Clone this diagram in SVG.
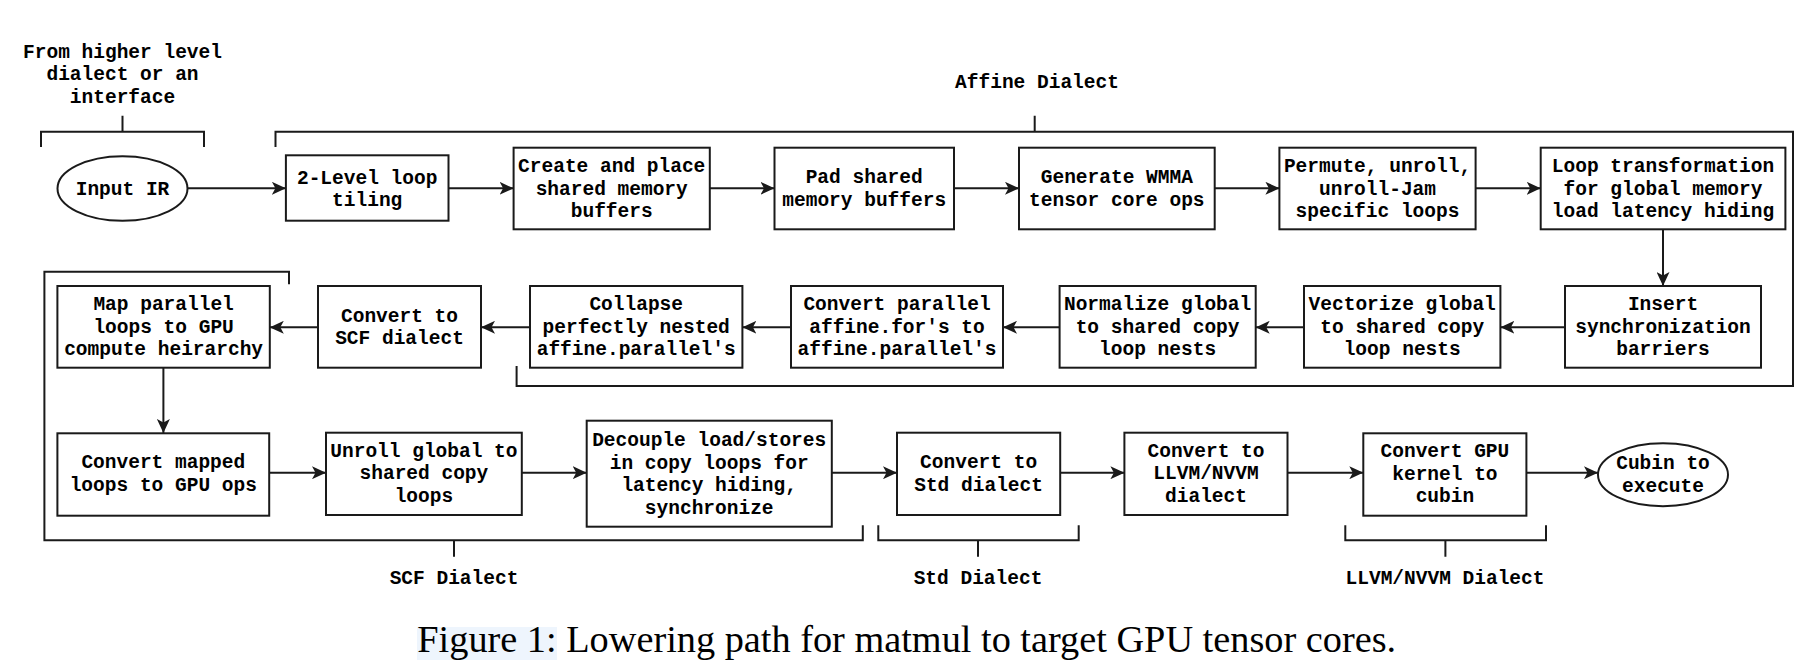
<svg xmlns="http://www.w3.org/2000/svg" width="1807" height="669" viewBox="0 0 1807 669">
<style>
.box{fill:#fff;stroke:#1a1a1a;stroke-width:2}
.t{font-family:"Liberation Mono","Courier New",monospace;font-weight:bold;font-size:19.5px;fill:#000;text-anchor:middle}
.c{fill:none;stroke:#1a1a1a;stroke-width:2}
.br{fill:none;stroke:#1a1a1a;stroke-width:2}
.cap{font-family:"Liberation Serif","Times New Roman",serif;font-size:38.3px;fill:#000}
</style>
<defs>
<marker id="ah" markerUnits="userSpaceOnUse" markerWidth="14" markerHeight="13" refX="14" refY="6.5" orient="auto">
<path d="M0,0 L14,6.5 L0,13 L3.5,6.5 Z" fill="#1a1a1a"/>
</marker>
</defs>
<rect width="1807" height="669" fill="#fff"/>

<g id="brackets">
<path class="br" d="M41,147 V131.7 H204 V147 M122.5,131.7 V115.7"/>
<path class="br" d="M275.5,147 V131.7 H1793 V386 H516.6 V366 M1034.7,131.7 V115.7"/>
<path class="br" d="M289,284.3 V271.7 H44.4 V540.3 H862.8 V525.3 M454,540.3 V556.7"/>
<path class="br" d="M878.3,525.3 V540.3 H1078.7 V525.3 M978,540.3 V556.7"/>
<path class="br" d="M1345.3,525.3 V540.3 H1546 V525.3 M1445.4,540.3 V556.7"/>
</g>

<g id="labels">
<text class="t" x="122.5" y="57.7">From higher level</text>
<text class="t" x="122.5" y="80.4">dialect or an</text>
<text class="t" x="122.5" y="103.1">interface</text>
<text class="t" x="1037" y="88.3">Affine Dialect</text>
<text class="t" x="454" y="584.3">SCF Dialect</text>
<text class="t" x="978" y="584.3">Std Dialect</text>
<text class="t" x="1445" y="584.3">LLVM/NVVM Dialect</text>
</g>

<g id="connectors">
<line class="c" x1="187.5" y1="188.3" x2="285.9" y2="188.3" marker-end="url(#ah)"/>
<line class="c" x1="448.5" y1="188.3" x2="513.6" y2="188.3" marker-end="url(#ah)"/>
<line class="c" x1="709.8" y1="188.3" x2="774.5" y2="188.3" marker-end="url(#ah)"/>
<line class="c" x1="954" y1="188.3" x2="1019" y2="188.3" marker-end="url(#ah)"/>
<line class="c" x1="1214.7" y1="188.3" x2="1279.4" y2="188.3" marker-end="url(#ah)"/>
<line class="c" x1="1475.6" y1="188.3" x2="1540.7" y2="188.3" marker-end="url(#ah)"/>
<line class="c" x1="1663" y1="229.3" x2="1663" y2="286" marker-end="url(#ah)"/>
<line class="c" x1="1565" y1="327.3" x2="1500.4" y2="327.3" marker-end="url(#ah)"/>
<line class="c" x1="1304" y1="327.3" x2="1255.7" y2="327.3" marker-end="url(#ah)"/>
<line class="c" x1="1059.6" y1="327.3" x2="1003" y2="327.3" marker-end="url(#ah)"/>
<line class="c" x1="791" y1="327.3" x2="742.4" y2="327.3" marker-end="url(#ah)"/>
<line class="c" x1="530" y1="327.3" x2="481" y2="327.3" marker-end="url(#ah)"/>
<line class="c" x1="318" y1="327.3" x2="269.8" y2="327.3" marker-end="url(#ah)"/>
<line class="c" x1="163.4" y1="367.7" x2="163.4" y2="433" marker-end="url(#ah)"/>
<line class="c" x1="269.2" y1="472.7" x2="326" y2="472.7" marker-end="url(#ah)"/>
<line class="c" x1="521.8" y1="472.7" x2="586.7" y2="472.7" marker-end="url(#ah)"/>
<line class="c" x1="831.8" y1="472.7" x2="897" y2="472.7" marker-end="url(#ah)"/>
<line class="c" x1="1060.2" y1="472.7" x2="1124.4" y2="472.7" marker-end="url(#ah)"/>
<line class="c" x1="1287.5" y1="472.7" x2="1363.3" y2="472.7" marker-end="url(#ah)" stroke-width="2.6"/>
<line class="c" x1="1526.4" y1="472.7" x2="1598" y2="472.7" marker-end="url(#ah)"/>
</g>

<g id="n-input">
<ellipse class="box" cx="122.5" cy="188.5" rx="65" ry="32.3"/>
<text class="t" x="122.5" y="194.5">Input IR</text>
</g>
<g id="n-tiling">
<rect class="box" x="285.9" y="155.3" width="162.6" height="65.4"/>
<text class="t" x="367.2" y="183.7">2-Level loop</text>
<text class="t" x="367.2" y="206.4">tiling</text>
</g>
<g id="n-create">
<rect class="box" x="513.6" y="147.7" width="196.2" height="81.6"/>
<text class="t" x="611.7" y="171.8">Create and place</text>
<text class="t" x="611.7" y="194.5">shared memory</text>
<text class="t" x="611.7" y="217.2">buffers</text>
</g>
<g id="n-pad">
<rect class="box" x="774.5" y="147.7" width="179.5" height="81.6"/>
<text class="t" x="864.2" y="183.2">Pad shared</text>
<text class="t" x="864.2" y="205.9">memory buffers</text>
</g>
<g id="n-wmma">
<rect class="box" x="1019" y="147.7" width="195.7" height="81.6"/>
<text class="t" x="1116.8" y="183.2">Generate WMMA</text>
<text class="t" x="1116.8" y="205.9">tensor core ops</text>
</g>
<g id="n-permute">
<rect class="box" x="1279.4" y="147.7" width="196.2" height="81.6"/>
<text class="t" x="1377.5" y="171.8">Permute, unroll,</text>
<text class="t" x="1377.5" y="194.5">unroll-Jam</text>
<text class="t" x="1377.5" y="217.2">specific loops</text>
</g>
<g id="n-looptrans">
<rect class="box" x="1540.7" y="147.7" width="244.7" height="81.6"/>
<text class="t" x="1663" y="171.8">Loop transformation</text>
<text class="t" x="1663" y="194.5">for global memory</text>
<text class="t" x="1663" y="217.2">load latency hiding</text>
</g>
<g id="n-insert">
<rect class="box" x="1565" y="286" width="196" height="81.7"/>
<text class="t" x="1663" y="310">Insert</text>
<text class="t" x="1663" y="332.7">synchronization</text>
<text class="t" x="1663" y="355.4">barriers</text>
</g>
<g id="n-vectorize">
<rect class="box" x="1304" y="286" width="196.4" height="81.7"/>
<text class="t" x="1402.2" y="310">Vectorize global</text>
<text class="t" x="1402.2" y="332.7">to shared copy</text>
<text class="t" x="1402.2" y="355.4">loop nests</text>
</g>
<g id="n-normalize">
<rect class="box" x="1059.6" y="286" width="196.1" height="81.7"/>
<text class="t" x="1157.6" y="310">Normalize global</text>
<text class="t" x="1157.6" y="332.7">to shared copy</text>
<text class="t" x="1157.6" y="355.4">loop nests</text>
</g>
<g id="n-convpar">
<rect class="box" x="791" y="286" width="212" height="81.7"/>
<text class="t" x="897" y="310">Convert parallel</text>
<text class="t" x="897" y="332.7">affine.for's to</text>
<text class="t" x="897" y="355.4">affine.parallel's</text>
</g>
<g id="n-collapse">
<rect class="box" x="530" y="286" width="212.4" height="81.7"/>
<text class="t" x="636.2" y="310">Collapse</text>
<text class="t" x="636.2" y="332.7">perfectly nested</text>
<text class="t" x="636.2" y="355.4">affine.parallel's</text>
</g>
<g id="n-scf">
<rect class="box" x="318" y="286" width="163" height="81.7"/>
<text class="t" x="399.5" y="321.5">Convert to</text>
<text class="t" x="399.5" y="344.2">SCF dialect</text>
</g>
<g id="n-map">
<rect class="box" x="57.4" y="286" width="212.4" height="81.7"/>
<text class="t" x="163.6" y="310">Map parallel</text>
<text class="t" x="163.6" y="332.7">loops to GPU</text>
<text class="t" x="163.6" y="355.4">compute heirarchy</text>
</g>
<g id="n-convmapped">
<rect class="box" x="57.4" y="433.3" width="211.8" height="82.4"/>
<text class="t" x="163.3" y="468.2">Convert mapped</text>
<text class="t" x="163.3" y="490.9">loops to GPU ops</text>
</g>
<g id="n-unroll">
<rect class="box" x="326" y="432.7" width="195.8" height="82.3"/>
<text class="t" x="423.9" y="456.5">Unroll global to</text>
<text class="t" x="423.9" y="479.2">shared copy</text>
<text class="t" x="423.9" y="501.9">loops</text>
</g>
<g id="n-decouple">
<rect class="box" x="586.7" y="420.7" width="245.1" height="106"/>
<text class="t" x="709.2" y="446">Decouple load/stores</text>
<text class="t" x="709.2" y="468.7">in copy loops for</text>
<text class="t" x="709.2" y="491.4">latency hiding,</text>
<text class="t" x="709.2" y="514.1">synchronize</text>
</g>
<g id="n-std">
<rect class="box" x="897" y="432.7" width="163.2" height="82.3"/>
<text class="t" x="978.6" y="468">Convert to</text>
<text class="t" x="978.6" y="490.7">Std dialect</text>
</g>
<g id="n-llvm">
<rect class="box" x="1124.4" y="432.7" width="163.1" height="82.3"/>
<text class="t" x="1206" y="456.5">Convert to</text>
<text class="t" x="1206" y="479.2">LLVM/NVVM</text>
<text class="t" x="1206" y="501.9">dialect</text>
</g>
<g id="n-gpu">
<rect class="box" x="1363.3" y="433.3" width="163.1" height="82.4"/>
<text class="t" x="1444.9" y="457">Convert GPU</text>
<text class="t" x="1444.9" y="479.7">kernel to</text>
<text class="t" x="1444.9" y="502.4">cubin</text>
</g>
<g id="n-cubin">
<ellipse class="box" cx="1663" cy="474.7" rx="65" ry="31.5"/>
<text class="t" x="1663" y="469">Cubin to</text>
<text class="t" x="1663" y="491.7">execute</text>
</g>

<g id="caption">
<rect x="417" y="627" width="140" height="33" fill="#eef5fd"/>
<text class="cap" x="417.3" y="652.3">Figure 1: Lowering path for matmul to target GPU tensor cores.</text>
</g>
</svg>
